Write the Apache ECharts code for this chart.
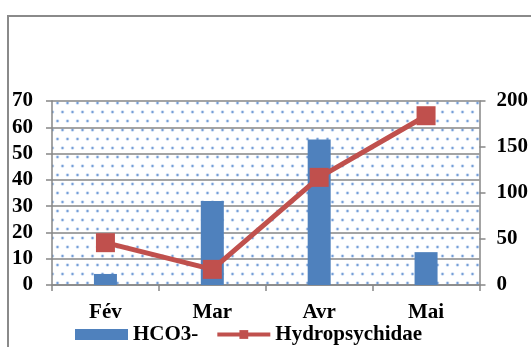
<!DOCTYPE html>
<html>
<head>
<meta charset="utf-8">
<script src="https://cdn.jsdelivr.net/npm/echarts@6/dist/echarts.min.js"></script>
<style>
  html, body { margin: 0; padding: 0; background: #fff; }
  #chart { width: 531px; height: 347px; }
</style>
</head>
<body>
<div id="chart"></div>
<script>
const months = ['Fév', 'Mar', 'Avr', 'Mai'];
const hco3 = [4.2, 32, 55.4, 12.5];
const hydropsychidae = [46, 17, 117, 184];
const leftTicks = { min: 0, max: 70, step: 10 };
const rightTicks = { min: 0, max: 200, step: 50 };

// dotted plot background, like the office "small confetti" fill
const tile = document.createElement('canvas');
tile.width = 10;
tile.height = 18;
const ctx = tile.getContext('2d');
ctx.fillStyle = '#ffffff';
ctx.fillRect(0, 0, 10, 18);
[[2.5, 4], [7.5, 13]].forEach(([x, y]) => {
  ctx.fillStyle = 'rgba(160,190,230,0.6)';
  ctx.beginPath();
  ctx.arc(x, y, 1.8, 0, Math.PI * 2);
  ctx.fill();
  ctx.fillStyle = '#6f9ad6';
  ctx.beginPath();
  ctx.arc(x, y, 1, 0, Math.PI * 2);
  ctx.fill();
});

const font = { fontFamily: 'Liberation Serif', fontWeight: 'bold', fontSize: 21, color: '#000' };
const gray = '#868686';

const chart = echarts.init(document.getElementById('chart'), null, { renderer: 'canvas' });

chart.setOption({
  animation: false,
  backgroundColor: '#fff',
  graphic: [{
    type: 'rect',
    shape: { x: 8, y: 16, width: 600, height: 400 },
    style: { fill: 'none', stroke: '#8a8a8a', lineWidth: 2 },
    silent: true,
    z: -1
  }],
  grid: {
    left: 52, right: 51, top: 101, bottom: 62,
    show: true,
    borderWidth: 0,
    backgroundColor: { image: tile, repeat: 'repeat' }
  },
  legend: {
    left: 75,
    top: 324,
    padding: 0,
    itemGap: 17,
    itemWidth: 53,
    itemHeight: 11,
    textStyle: font,
    data: [
      { name: 'HCO3-', icon: 'rect' },
      { name: 'Hydropsychidae', lineStyle: { width: 4 } }
    ]
  },
  xAxis: {
    type: 'category',
    data: months,
    axisLine: { lineStyle: { color: gray, width: 1.5 } },
    axisTick: { show: true, length: 6, lineStyle: { color: gray, width: 1.5 } },
    axisLabel: Object.assign({ margin: 17 }, font)
  },
  yAxis: [
    {
      type: 'value',
      min: leftTicks.min, max: leftTicks.max, interval: leftTicks.step,
      axisLine: { show: true, lineStyle: { color: gray, width: 1.5 } },
      axisTick: { show: true, length: 6, lineStyle: { color: gray, width: 1.5 } },
      splitLine: { lineStyle: { color: gray, width: 1.5 } },
      axisLabel: Object.assign({ margin: 19 }, font)
    },
    {
      type: 'value',
      min: rightTicks.min, max: rightTicks.max, interval: rightTicks.step,
      axisLine: { show: true, lineStyle: { color: gray, width: 1.5 } },
      axisTick: { show: true, length: 6, lineStyle: { color: gray, width: 1.5 } },
      splitLine: { show: false },
      axisLabel: Object.assign({ margin: 17 }, font)
    }
  ],
  series: [
    {
      name: 'HCO3-',
      type: 'bar',
      yAxisIndex: 0,
      data: hco3,
      barWidth: 23,
      itemStyle: { color: '#4f81bd' }
    },
    {
      name: 'Hydropsychidae',
      type: 'line',
      yAxisIndex: 1,
      data: hydropsychidae,
      symbol: 'rect',
      symbolSize: 19,
      lineStyle: { color: '#c0504d', width: 5 },
      itemStyle: { color: '#c0504d' }
    }
  ]
});
</script>
</body>
</html>
